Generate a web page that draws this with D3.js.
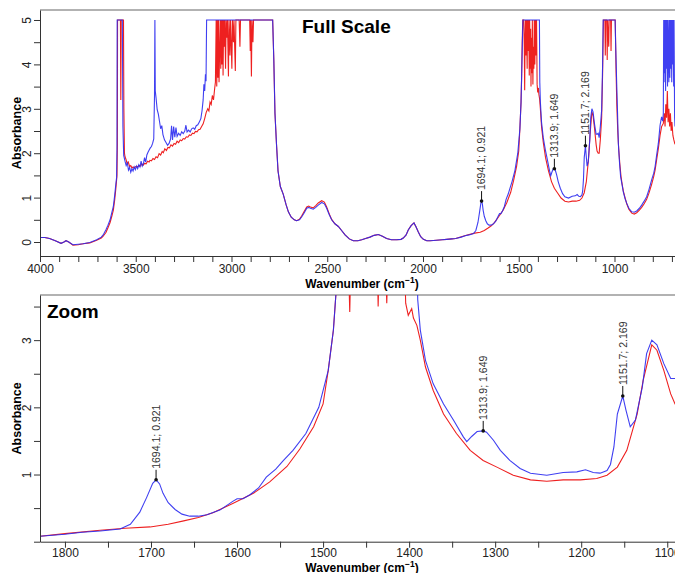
<!DOCTYPE html>
<html>
<head>
<meta charset="utf-8">
<script src="https://cdn.jsdelivr.net/npm/d3@7"></script>
<style>
body { margin: 0; background: #fff; }
svg text { font-family: "Liberation Sans", Arial, sans-serif; }
</style>
</head>
<body>
<div id="chart"></div>
<script>
// spectra as [wavenumber, absorbance]
var blueSpectrum = [
[4000,0.10],[3975,0.10],[3950,0.08],[3920,0.03],[3890,-0.03],[3875,0.00],[3864,0.03],[3850,0.00],[3828,-0.06],[3800,-0.05],[3775,-0.04],[3740,-0.01],[3704,0.05],[3680,0.11],[3670,0.16],[3655,0.28],[3645,0.38],[3634,0.50],[3625,0.66],[3617,0.80],[3610,1.05],[3604,1.30],[3600,1.45],[3598,2.1],[3597,5],[3570,5],[3567,2.6],[3563,1.95],[3556,1.82],[3550,1.72],[3544,1.78],[3538,1.62],[3532,1.68],[3526,1.57],[3520,1.65],[3514,1.60],[3508,1.69],[3502,1.63],[3496,1.71],[3490,1.65],[3484,1.74],[3478,1.69],[3472,1.82],[3466,1.71],[3460,1.76],[3454,1.90],[3448,1.80],[3442,1.96],[3436,2.02],[3430,2.07],[3424,2.12],[3418,2.15],[3412,2.22],[3406,2.32],[3402,3.3],[3400,5],[3398,3.4],[3394,3.25],[3388,2.98],[3382,2.88],[3376,2.72],[3370,2.55],[3364,2.62],[3358,2.42],[3350,2.30],[3342,2.24],[3334,2.18],[3326,2.22],[3318,2.32],[3313,2.62],[3308,2.30],[3302,2.60],[3296,2.36],[3290,2.58],[3284,2.38],[3276,2.45],[3268,2.40],[3260,2.48],[3252,2.44],[3244,2.50],[3238,2.63],[3232,2.48],[3224,2.52],[3216,2.48],[3208,2.55],[3200,2.57],[3192,2.54],[3184,2.62],[3176,2.64],[3168,2.70],[3160,2.78],[3154,2.95],[3148,3.20],[3144,3.55],[3140,3.40],[3136,3.78],[3133,3.62],[3130,5],
[2785,5],[2779,4.1],[2773,2.9],[2765,2.2],[2757,1.6],[2745,1.25],[2730,1.08],[2715,0.84],[2703,0.68],[2688,0.56],[2672,0.50],[2660,0.48],[2645,0.50],[2633,0.57],[2620,0.66],[2607,0.76],[2597,0.78],[2588,0.76],[2573,0.74],[2560,0.78],[2547,0.83],[2529,0.89],[2515,0.86],[2503,0.76],[2490,0.62],[2477,0.50],[2460,0.41],[2442,0.35],[2425,0.26],[2407,0.16],[2385,0.07],[2364,0.03],[2340,0.03],[2320,0.05],[2300,0.08],[2277,0.11],[2255,0.15],[2233,0.17],[2212,0.13],[2190,0.08],[2165,0.05],[2137,0.05],[2115,0.06],[2103,0.09],[2088,0.16],[2077,0.27],[2062,0.37],[2047,0.43],[2036,0.34],[2025,0.23],[2012,0.12],[1998,0.06],[1980,0.03],[1963,0.03],[1930,0.04],[1900,0.05],[1876,0.06],[1850,0.07],
[1829,0.08],[1800,0.11],[1780,0.14],[1759,0.16],[1736,0.19],[1724,0.26],[1713,0.44],[1705,0.66],[1698,0.87],[1694.1,0.921],[1690,0.86],[1686,0.72],[1680,0.58],[1672,0.48],[1664,0.41],[1655,0.38],[1645,0.38],[1635,0.40],[1620,0.47],[1605,0.60],[1600,0.64],[1593,0.64],[1585,0.70],[1575,0.80],[1566,0.96],[1555,1.08],[1546,1.21],[1535,1.36],[1520,1.61],[1505,2.0],[1494,2.55],[1488,3.15],[1485,3.7],[1481,4.5],[1478,5],[1392,5],[1390,3.6],[1387,3.15],[1381,2.7],[1372,2.35],[1360,2.05],[1348,1.8],[1337,1.56],[1333,1.49],[1327,1.57],[1321,1.64],[1313.9,1.649],[1310,1.63],[1302,1.51],[1294,1.36],[1283,1.21],[1271,1.09],[1259,1.02],[1240,0.99],[1221,1.03],[1205,1.04],[1195,1.07],[1186,1.03],[1178,1.02],[1170,1.06],[1166,1.15],[1162,1.41],[1158,1.9],[1151.7,2.169],[1148,1.96],[1143,1.71],[1137,1.81],[1129,2.3],[1124,2.8],[1118,3.0],[1112,2.93],[1104,2.65],[1096,2.43],[1091,2.43],
[1085,2.45],[1080,2.35],[1074,2.6],[1067,2.97],[1062,4.0],[1059,5],[997,5],[993,4.3],[989,3.65],[984,2.9],[980,2.23],[974,1.8],[968,1.47],[960,1.28],[954,1.13],[945,0.98],[936,0.87],[925,0.76],[910,0.68],[897,0.67],[884,0.70],[870,0.76],[858,0.83],[845,0.92],[832,1.02],[820,1.18],[806,1.40],[795,1.55],[788,1.70],[780,1.95],[771,2.22],[762,2.63],[754,2.82],[748,2.72],[745,2.9],[743,5],[741,3.6],[739,5],[737,3.8],[735,5],[733,3.4],[731,5],[728,3.9],[726,5],[723,3.5],[721,5],[718,4.2],[716,3.6],[714,5],[711,3.7],[709,5],[706,3.9],[704,5],[701,3.6],[699,5],[696,4.0],[694,5],[691,3.5],[689,5],[686,2.8],[684,2.6]
];

var redSpectrum = [
[4000,0.10],[3975,0.10],[3950,0.08],[3920,0.03],[3890,-0.03],[3875,0.00],[3864,0.03],[3850,0.00],[3828,-0.07],[3800,-0.06],[3775,-0.04],[3740,-0.02],[3704,0.04],[3680,0.09],[3670,0.13],[3655,0.22],[3645,0.32],[3634,0.44],[3625,0.58],[3617,0.72],[3610,0.95],[3604,1.20],[3598,1.5],[3596,2.2],[3595,5],[3580,5],[3578,3.2],[3576,5],[3564,5],[3562,3.0],[3559,2.0],[3556,1.92],[3550,1.85],[3545,1.76],[3539,1.80],[3532,1.70],[3526,1.72],[3520,1.67],[3514,1.69],[3508,1.67],[3500,1.70],[3492,1.69],[3484,1.72],[3476,1.71],[3468,1.76],[3461,1.73],[3454,1.77],[3446,1.76],[3438,1.82],[3430,1.80],[3426,1.84],[3418,1.83],[3410,1.88],[3402,1.86],[3394,1.92],[3386,1.90],[3378,1.99],[3370,1.96],[3362,2.04],[3356,2.01],[3348,2.10],[3340,2.06],[3332,2.13],[3324,2.12],[3316,2.19],[3308,2.16],[3300,2.22],[3292,2.20],[3284,2.27],[3276,2.24],[3268,2.30],[3260,2.28],[3252,2.33],[3244,2.32],[3236,2.37],[3228,2.36],[3220,2.41],[3212,2.40],[3204,2.45],[3196,2.44],[3188,2.49],[3180,2.48],[3172,2.53],[3164,2.54],[3156,2.60],[3148,2.66],[3140,2.78],[3132,2.92],[3124,3.0],[3118,2.95],[3112,3.15],[3106,3.1],[3100,3.3],[3094,3.2],[3088,3.45],[3084,3.6],[3080,5],[3077,3.5],[3074,5],[3071,3.7],[3068,5],[3065,3.6],[3062,4.3],[3059,5],[3056,3.9],[3053,5],[3050,4.0],[3047,5],[3044,3.75],[3041,5],[3038,4.4],[3035,5],[3031,3.9],[3028,5],[3024,4.6],[3021,5],[3016,3.73],[3013,5],[3008,4.2],[3005,5],[2998,3.9],[2995,5],[2990,4.5],[2987,5],[2980,3.85],[2977,5],[2960,5],[2956,4.4],[2953,5],[2905,5],[2902,4.3],[2900,5],[2896,3.73],[2893,5],[2888,4.5],[2885,5],
[2785,5],[2779,4.1],[2773,2.9],[2765,2.2],[2757,1.6],[2745,1.25],[2730,1.08],[2715,0.84],[2703,0.68],[2688,0.56],[2672,0.50],[2660,0.48],[2645,0.51],[2633,0.59],[2620,0.69],[2607,0.79],[2597,0.81],[2588,0.79],[2573,0.77],[2560,0.82],[2547,0.88],[2529,0.93],[2515,0.90],[2503,0.79],[2490,0.64],[2477,0.51],[2460,0.41],[2442,0.35],[2425,0.26],[2407,0.16],[2385,0.07],[2364,0.03],[2340,0.03],[2320,0.05],[2300,0.08],[2277,0.11],[2255,0.15],[2233,0.17],[2212,0.13],[2190,0.08],[2165,0.05],[2137,0.05],[2115,0.06],[2103,0.09],[2088,0.16],[2077,0.27],[2062,0.37],[2047,0.43],[2036,0.34],[2025,0.23],[2012,0.12],[1998,0.06],[1980,0.03],[1963,0.03],[1930,0.04],[1900,0.05],[1876,0.06],[1850,0.07],
[1829,0.08],[1800,0.12],[1759,0.17],[1730,0.20],[1701,0.22],[1680,0.26],[1662,0.31],[1645,0.36],[1628,0.43],[1605,0.57],[1581,0.72],[1562,0.89],[1542,1.12],[1527,1.38],[1511,1.71],[1500,2.05],[1494,2.55],[1488,3.15],[1485,3.7],[1482,4.5],[1479,5],[1474,5],[1471,4.4],[1469,3.42],[1467,4.6],[1465,5],[1462,4.2],[1460,5],[1456,3.9],[1454,5],[1450,4.3],[1448,5],[1445,3.75],[1443,5],[1440,3.9],[1438,4.8],[1436,3.5],[1434,4.6],[1431,3.8],[1429,5],[1426,3.55],[1424,4.4],[1421,3.9],[1419,5],[1416,4.0],[1413,5],[1410,4.2],[1407,5],[1404,3.55],[1401,3.37],[1397,3.47],[1395,3.33],[1391,3.22],[1387,3.0],[1381,2.6],[1372,2.25],[1360,1.9],[1345,1.61],[1329,1.36],[1314,1.21],[1298,1.11],[1279,0.99],[1259,0.92],[1240,0.9],[1221,0.92],[1201,0.92],[1182,0.94],[1170,0.99],[1158,1.11],[1147,1.36],[1135,1.9],[1128,2.4],[1118,2.93],[1112,2.85],[1104,2.55],[1096,2.2],[1091,2.05],
[1085,2.0],[1080,2.0],[1074,2.3],[1067,2.8],[1062,3.8],[1058,5],[1050,5],[1048,4.2],[1046,5],[1040,5],[1038,4.1],[1036,5],[1030,4.4],[1028,5],[1020,5],[1018,4.3],[1016,5],[996,5],[992,3.9],[988,3.1],[983,2.5],[978,2.1],[972,1.75],[966,1.48],[960,1.3],[954,1.15],[945,1.0],[936,0.86],[925,0.74],[910,0.65],[897,0.63],[884,0.66],[870,0.72],[858,0.78],[845,0.86],[832,0.96],[820,1.1],[806,1.3],[795,1.48],[788,1.62],[780,1.85],[771,2.1],[762,2.4],[754,2.6],[745,2.67],[740,2.9],[736,2.6],[732,3.1],[728,2.8],[724,3.4],[720,2.7],[716,3.0],[712,2.6],[708,2.9],[704,2.5],[700,2.7],[695,2.4],[690,2.3],[684,2.2]
];

// peak markers on the blue trace
var peakWavenumbers = [1694.1, 1313.9, 1151.7];
var peakValues = [0.921, 1.649, 2.169];

var fullXLabels = [4000, 3500, 3000, 2500, 2000, 1500, 1000];
var fullYLabels = [0, 1, 2, 3, 4, 5];
var zoomXLabels = [1800, 1700, 1600, 1500, 1400, 1300, 1200, 1100];
var zoomYLabels = [1, 2, 3];

var w = 675, h = 573;
var svg = d3.select("#chart").append("svg")
    .attr("width", w)
    .attr("height", h);

function drawPanel(p, idx) {
    var x = d3.scaleLinear().domain(p.xDomain).range([40, 675]);
    var y = d3.scaleLinear().domain(p.yDomain).range([p.bottom, p.top]);
    var g = svg.append("g");

    g.append("clipPath").attr("id", "clip" + idx)
        .append("rect")
        .attr("x", 40).attr("y", p.top)
        .attr("width", 635).attr("height", p.bottom - p.top);

    // gray frame top
    g.append("line")
        .attr("x1", 40).attr("x2", 675)
        .attr("y1", p.top).attr("y2", p.top)
        .attr("stroke", "#999").attr("stroke-width", 1.5);

    var line = d3.line()
        .x(function(d){ return x(d[0]); })
        .y(function(d){ return y(d[1]); });

    var plot = g.append("g").attr("clip-path", "url(#clip" + idx + ")");
    plot.append("path")
        .datum(redSpectrum)
        .attr("d", line)
        .attr("fill", "none")
        .attr("stroke", "#ee2020")
        .attr("stroke-width", 1.1);
    plot.append("path")
        .datum(blueSpectrum)
        .attr("d", line)
        .attr("fill", "none")
        .attr("stroke", "#2a2af0")
        .attr("stroke-width", 1.1)
        .attr("stroke-opacity", 0.9);

    // peak annotations
    peakWavenumbers.forEach(function(wn, i) {
        var px = x(wn), py = y(peakValues[i]);
        plot.append("circle")
            .attr("cx", px).attr("cy", py).attr("r", 1.8)
            .attr("fill", "#111");
        plot.append("line")
            .attr("x1", px).attr("x2", px)
            .attr("y1", py).attr("y2", py - 10)
            .attr("stroke", "#111").attr("stroke-width", 1);
        plot.append("text")
            .attr("transform", "translate(" + px + "," + (py - 11) + ") rotate(-90)")
            .attr("dy", "0.36em")
            .attr("font-size", 10.5)
            .attr("fill", "#333")
            .text(wn + "; " + peakValues[i]);
    });

    // x axis
    var xAxis = d3.axisBottom(x)
        .tickValues(p.xTicks)
        .tickSize(6)
        .tickSizeOuter(0)
        .tickFormat(function(d){ return p.xLabels.indexOf(d) >= 0 ? d : ""; });
    var gx = g.append("g")
        .attr("transform", "translate(0," + p.bottom + ")")
        .call(xAxis);
    gx.selectAll("text").attr("font-size", 12).attr("fill", "#222")
        .attr("font-family", null).attr("y", p.labelGap);
    gx.selectAll("line").attr("stroke", "#333");
    gx.select(".domain").attr("stroke", "#333");

    // y axis with rotated labels
    var yAxis = d3.axisLeft(y)
        .tickValues(p.yTicks)
        .tickSize(6)
        .tickSizeOuter(0)
        .tickFormat(function(d){ return p.yLabels.indexOf(d) >= 0 ? d : ""; });
    var gy = g.append("g")
        .attr("transform", "translate(40,0)")
        .call(yAxis);
    gy.selectAll("text")
        .attr("font-size", 12).attr("fill", "#222").attr("font-family", null)
        .attr("transform", "rotate(-90)")
        .attr("x", 0).attr("y", -9).attr("dy", 0)
        .attr("text-anchor", "middle");
    gy.selectAll("line").attr("stroke", "#333");
    gy.select(".domain").attr("stroke", "#333");

    // axis titles
    g.append("text")
        .attr("transform", "translate(21," + ((p.top + p.bottom) / 2) + ") rotate(-90)")
        .attr("text-anchor", "middle")
        .attr("font-size", 12.5).attr("font-weight", "bold")
        .text("Absorbance");

    var xt = g.append("text")
        .attr("x", 362).attr("y", p.titleY)
        .attr("text-anchor", "middle")
        .attr("font-size", 12).attr("font-weight", "bold");
    xt.append("tspan").text("Wavenumber (cm");
    xt.append("tspan").attr("font-size", 8.5).attr("dy", -5).text("\u22121");
    xt.append("tspan").attr("dy", 5).text(")");

    g.append("text")
        .attr("x", p.titleX).attr("y", p.top + 23)
        .attr("font-size", 19).attr("font-weight", "bold")
        .attr("fill", "#000")
        .text(p.title);
}

var panels = [
    { title: "Full Scale", titleX: 302, top: 10, bottom: 256, titleY: 288, labelGap: 8,
      xDomain: [4000, 684], yDomain: [-0.315, 5.225],
      xTicks: d3.range(4000, 684, -100), xLabels: fullXLabels,
      yTicks: d3.range(0, 5.01, 0.5), yLabels: fullYLabels },
    { title: "Zoom", titleX: 47, top: 295, bottom: 541.7, titleY: 571.5, labelGap: 6.5,
      xDomain: [1829, 1091], yDomain: [0, 3.672],
      xTicks: d3.range(1800, 1091, -50), xLabels: zoomXLabels,
      yTicks: d3.range(0, 3.51, 0.5), yLabels: zoomYLabels }
];
panels.forEach(drawPanel);
</script>
</body>
</html>
